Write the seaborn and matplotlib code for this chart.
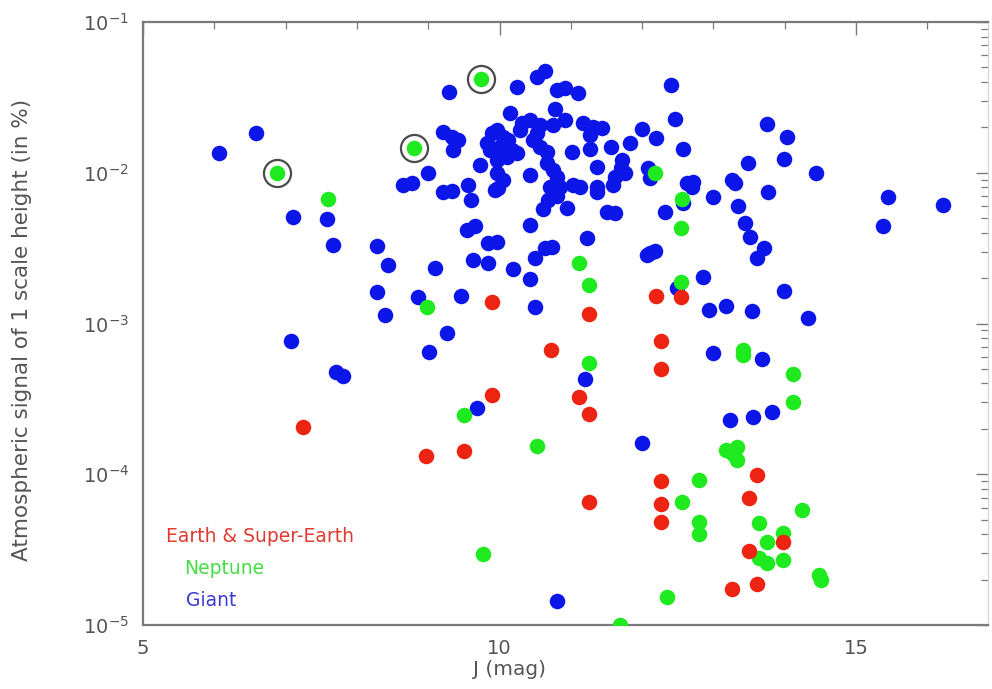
import numpy as np
import pandas as pd
import matplotlib
matplotlib.use("Agg")
import matplotlib.pyplot as plt
import seaborn as sns
from matplotlib.ticker import LogLocator, MultipleLocator, NullFormatter

# ---- data: J magnitude and atmospheric signal of one scale height (in %) ----
giant_j = [6.59, 6.07, 7.10, 7.58, 7.66, 8.28, 8.44, 8.28, 8.39, 7.08, 7.71, 7.81,
           8.65, 8.77, 9.00, 9.29, 9.21, 9.33, 9.42, 9.35, 9.21, 9.33, 9.56, 9.60,
           9.73, 9.54, 9.66, 10.43, 9.84, 9.97, 10.64, 10.74, 10.50, 9.63, 9.84,
           10.19, 10.43, 11.23, 10.50, 9.46, 9.10, 8.86, 9.26, 12.00, 12.07, 10.25,
           10.53, 10.64, 10.15, 10.81, 10.92, 11.10, 10.78, 12.41, 12.46, 11.17,
           11.31, 11.44, 11.27, 12.20, 11.83, 11.56, 11.27, 11.02, 12.57, 11.72,
           11.37, 12.08, 12.11, 11.76, 11.62, 11.59, 12.63, 12.71, 12.70, 11.37,
           11.37, 13.75, 14.03, 13.49, 13.99, 14.44, 13.26, 13.30, 12.99, 13.77,
           12.57, 13.35, 12.32, 15.45, 16.22, 15.38, 13.44, 13.51, 13.71, 13.61,
           12.11, 12.18, 12.85, 12.49, 13.99, 12.94, 13.18, 13.54, 14.33, 12.99,
           13.68, 13.23, 13.56, 13.82, 12.00, 11.20, 10.81, 9.68, 9.01, 11.70,
           11.51, 11.62, 10.68, 10.61, 10.95, 10.81, 11.03, 11.13, 9.94, 9.90,
           9.97, 10.05, 9.83, 10.01, 10.12, 9.87, 10.32, 10.43, 10.57, 10.75,
           10.92, 10.47, 10.57, 10.67, 9.97, 10.11, 10.25, 9.97, 10.05, 9.98,
           10.43, 10.67, 10.75, 10.81, 10.85, 10.53, 10.18, 10.29, 10.71]
giant_sig = [1.84e-2, 1.35e-2, 5.1e-3, 4.9e-3, 3.3e-3, 3.27e-3, 2.44e-3, 1.62e-3,
             1.14e-3, 7.7e-4, 4.8e-4, 4.5e-4, 8.3e-3, 8.6e-3, 9.9e-3, 3.44e-2,
             1.86e-2, 1.73e-2, 1.65e-2, 1.42e-2, 7.4e-3, 7.6e-3, 8.3e-3, 6.6e-3,
             1.12e-2, 4.2e-3, 4.4e-3, 4.5e-3, 3.42e-3, 3.47e-3, 3.17e-3, 3.21e-3,
             2.72e-3, 2.64e-3, 2.52e-3, 2.3e-3, 1.97e-3, 3.7e-3, 1.29e-3, 1.52e-3,
             2.33e-3, 1.5e-3, 8.7e-4, 1.95e-2, 2.84e-3, 3.7e-2, 4.3e-2, 4.7e-2,
             2.5e-2, 3.54e-2, 3.65e-2, 3.38e-2, 2.65e-2, 3.8e-2, 2.28e-2, 2.14e-2,
             2.01e-2, 1.98e-2, 1.78e-2, 1.70e-2, 1.57e-2, 1.48e-2, 1.44e-2, 1.37e-2,
             1.44e-2, 1.22e-2, 1.09e-2, 1.08e-2, 9.2e-3, 9.9e-3, 9.4e-3, 8.3e-3,
             8.6e-3, 8.7e-3, 8.0e-3, 8.0e-3, 7.4e-3, 2.1e-2, 1.73e-2, 1.16e-2,
             1.23e-2, 9.9e-3, 9.0e-3, 8.6e-3, 6.9e-3, 7.4e-3, 6.3e-3, 6.0e-3,
             5.5e-3, 6.9e-3, 6.1e-3, 4.4e-3, 4.65e-3, 3.75e-3, 3.17e-3, 2.72e-3,
             2.94e-3, 3.03e-3, 2.03e-3, 1.72e-3, 1.64e-3, 1.23e-3, 1.31e-3, 1.21e-3,
             1.09e-3, 6.4e-4, 5.8e-4, 2.3e-4, 2.4e-4, 2.6e-4, 1.61e-4, 4.3e-4,
             1.44e-5, 2.75e-4, 6.5e-4, 1.08e-2, 5.5e-3, 5.4e-3, 6.6e-3, 5.75e-3,
             5.8e-3, 7.0e-3, 8.3e-3, 8.0e-3, 7.7e-3, 1.84e-2, 1.92e-2, 1.73e-2,
             1.57e-2, 1.48e-2, 1.65e-2, 1.42e-2, 2.14e-2, 2.24e-2, 2.07e-2, 2.07e-2,
             2.24e-2, 1.65e-2, 1.48e-2, 1.37e-2, 1.22e-2, 1.27e-2, 1.35e-2, 9.9e-3,
             9.0e-3, 7.9e-3, 9.7e-3, 1.16e-2, 1.04e-2, 9.4e-3, 8.0e-3, 1.84e-2,
             1.42e-2, 1.92e-2, 8.0e-3]

neptune_j = [6.88, 8.80, 9.74, 7.60, 8.98, 9.50, 9.77, 10.53, 11.12, 11.26, 11.26,
             12.18, 12.56, 12.55, 12.55, 13.42, 13.42, 14.12, 14.12, 13.18, 13.33,
             13.28, 13.33, 12.80, 12.56, 12.80, 12.80, 14.24, 13.64, 13.98, 13.75,
             13.64, 13.75, 13.98, 14.48, 14.51, 12.35, 11.69]
neptune_sig = [9.9e-3, 1.46e-2, 4.2e-2, 6.7e-3, 1.29e-3, 2.47e-4, 2.96e-5, 1.54e-4,
               2.52e-3, 1.8e-3, 5.5e-4, 9.9e-3, 6.7e-3, 4.3e-3, 1.88e-3, 6.7e-4,
               6.2e-4, 4.6e-4, 3.0e-4, 1.45e-4, 1.52e-4, 1.36e-4, 1.24e-4, 9.2e-5,
               6.5e-5, 4.8e-5, 4.0e-5, 5.8e-5, 4.75e-5, 4.1e-5, 3.56e-5, 2.78e-5,
               2.58e-5, 2.7e-5, 2.15e-5, 2.0e-5, 1.53e-5, 1.0e-5]

earth_j = [7.24, 8.97, 9.50, 9.90, 9.90, 10.72, 11.12, 11.26, 11.26, 11.26, 12.20,
           12.55, 12.27, 12.27, 12.27, 12.27, 12.27, 13.61, 13.50, 13.98, 13.50,
           13.26, 13.61]
earth_sig = [2.06e-4, 1.32e-4, 1.43e-4, 1.39e-3, 3.36e-4, 6.7e-4, 3.25e-4, 2.51e-4,
             1.16e-3, 6.55e-5, 1.52e-3, 1.5e-3, 7.7e-4, 5.0e-4, 9.0e-5, 6.35e-5,
             4.8e-5, 9.9e-5, 6.95e-5, 3.56e-5, 3.1e-5, 1.73e-5, 1.87e-5]

# highlighted Neptune-class planets (ringed)
ringed_j = [6.88, 8.80, 9.74]
ringed_sig = [9.9e-3, 1.46e-2, 4.2e-2]

class_colors = {"Giant": "#0d16e8", "Neptune": "#1fea1f", "Earth & Super-Earth": "#ee2412"}
label_colors = {"Giant": "#3b3bd0", "Neptune": "#44dd44", "Earth & Super-Earth": "#e23a30"}

giant = pd.DataFrame({"J": giant_j, "signal": giant_sig})
neptune = pd.DataFrame({"J": neptune_j, "signal": neptune_sig})
earth = pd.DataFrame({"J": earth_j, "signal": earth_sig})
ringed = pd.DataFrame({"J": ringed_j, "signal": ringed_sig})

sns.set_style("white")
plt.rcParams["font.family"] = ["DejaVu Sans"]

fig = plt.figure(figsize=(9.92, 6.89), dpi=100)
ax = fig.add_axes([143 / 992, 1 - 625 / 689, 845 / 992, 603 / 689])
ax.set_yscale("log")

sns.scatterplot(data=giant, x="J", y="signal", color=class_colors["Giant"],
                s=125, linewidth=0, ax=ax, legend=False, zorder=2)
sns.scatterplot(data=ringed, x="J", y="signal", color="white", s=380,
                edgecolor="#4a4a4a", linewidth=1.6, ax=ax, legend=False, zorder=3)
sns.scatterplot(data=neptune, x="J", y="signal", color=class_colors["Neptune"],
                s=125, linewidth=0, ax=ax, legend=False, zorder=4)
sns.scatterplot(data=earth, x="J", y="signal", color=class_colors["Earth & Super-Earth"],
                s=125, linewidth=0, ax=ax, legend=False, zorder=5)

ax.set_xlim(5, 16.85)
ax.set_ylim(1e-5, 1e-1)

ax.xaxis.set_major_locator(MultipleLocator(5))
ax.xaxis.set_minor_locator(MultipleLocator(1))
ax.yaxis.set_major_locator(LogLocator(base=10, numticks=10))
ax.yaxis.set_minor_locator(LogLocator(base=10, subs=np.arange(2, 10), numticks=10))
ax.yaxis.set_minor_formatter(NullFormatter())

axis_grey = "#7a7a7a"
text_grey = "#555555"
ax.tick_params(which="both", direction="in", top=True, right=True,
               color=axis_grey, labelcolor=text_grey, labelsize=14)
ax.tick_params(which="major", length=9, width=1.0, pad=10)
ax.tick_params(which="minor", length=5, width=0.9)
for side in ax.spines.values():
    side.set_color(axis_grey)
    side.set_linewidth(1.6)
ax.spines["right"].set_color("#d8d8d8")
ax.spines["right"].set_linewidth(1.0)

ax.set_xlabel("J (mag)", color=text_grey, fontsize=14.5)
ax.xaxis.set_label_coords((509 - 143) / 845, -0.058)
ax.set_ylabel("Atmospheric signal of 1 scale height (in %)", color=text_grey,
              fontsize=15.5)
ax.yaxis.set_label_coords(-0.131, (625 - 330) / 603)

# class labels written in their marker colours
label_pos = {"Earth & Super-Earth": (0.027, 0.146),
             "Neptune": (0.049, 0.094),
             "Giant": (0.051, 0.040)}
for name in ["Earth & Super-Earth", "Neptune", "Giant"]:
    lx, ly = label_pos[name]
    ax.text(lx, ly, name, transform=ax.transAxes, color=label_colors[name],
            fontsize=13.5, va="center", ha="left")

fig.savefig("out.png", dpi=100, facecolor="white")
